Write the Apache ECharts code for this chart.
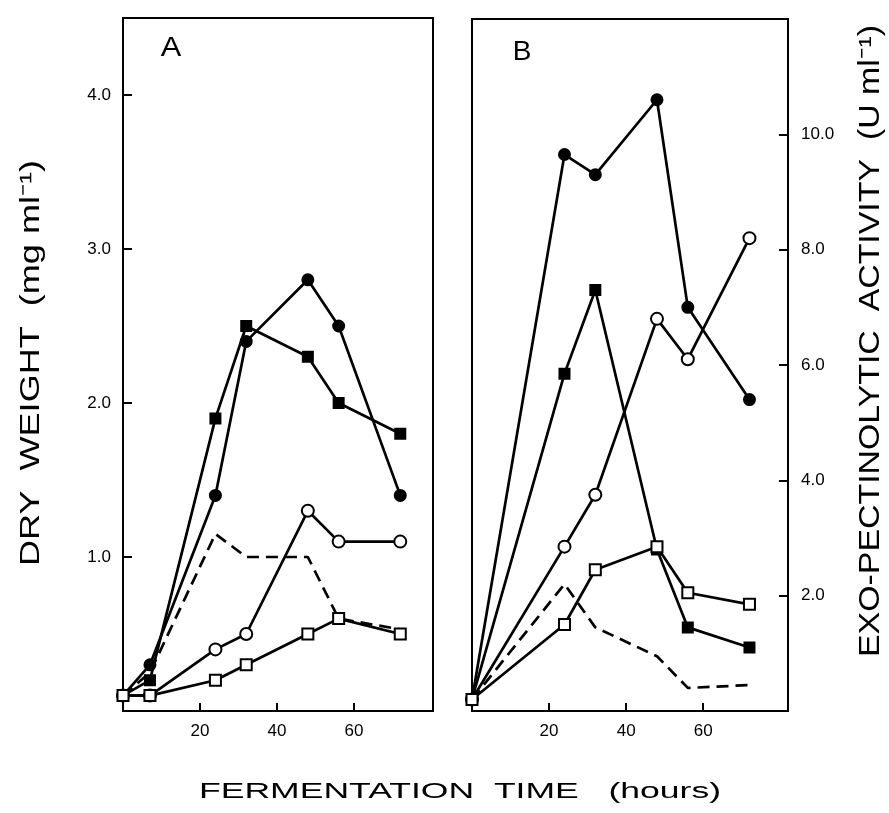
<!DOCTYPE html>
<html>
<head>
<meta charset="utf-8">
<script src="https://cdn.jsdelivr.net/npm/echarts@6/dist/echarts.min.js"></script>
<style>
html,body{margin:0;padding:0;background:#fff;}
#chart{width:889px;height:813px;}
</style>
</head>
<body>
<div id="chart"></div>
<script>
// ---- data ----
const hoursA = [0, 7, 24, 32, 48, 56, 72];
const hoursB = [0, 24, 32, 48, 56, 72];

// Panel A (dry weight, mg/ml)
const filledCircleA = [0.1, 0.3, 1.4, 2.4, 2.8, 2.5, 1.4];
const filledSquareA = [0.1, 0.2, 1.9, 2.5, 2.3, 2.0, 1.8];
const openCircleA   = [0.1, 0.1, 0.4, 0.5, 1.3, 1.1, 1.1];
const openSquareA   = [0.1, 0.1, 0.2, 0.3, 0.5, 0.6, 0.5];
const dashedA       = [0.1, 0.25, 1.15, 1.0, 1.0, 0.6, 0.53];

// Panel B (exo-pectinolytic activity, U/ml)
const filledCircleB = [0.2, 9.65, 9.3, 10.6, 7.0, 5.4];
const filledSquareB = [0.2, 5.85, 7.3, 2.8, 1.45, 1.1];
const openCircleB   = [0.2, 2.85, 3.75, 6.8, 6.1, 8.2];
const openSquareB   = [0.2, 1.5, 2.45, 2.85, 2.05, 1.85];
const dashedB       = [0.2, 2.2, 1.45, 0.95, 0.4, 0.45];

// ticks
const xTickValues = [20, 40, 60];
const xTickLabels = ['20', '40', '60'];
const yTickValuesA = [1, 2, 3, 4];
const yTickLabelsA = ['1.0', '2.0', '3.0', '4.0'];
const yTickValuesB = [2, 4, 6, 8, 10];
const yTickLabelsB = ['2.0', '4.0', '6.0', '8.0', '10.0'];

// texts
const titleX = 'FERMENTATION  TIME   (hours)';
const titleYA = 'DRY  WEIGHT  (mg ml\u207B\u00B9)';
const titleYB = 'EXO-PECTINOLYTIC  ACTIVITY  (U ml\u207B\u00B9)';
const panelLabels = ['A', 'B'];

// ---- helpers ----
const FONT = '"Liberation Sans", Arial, sans-serif';
const ctx = document.createElement('canvas').getContext('2d');
function textWidth(t, size) { ctx.font = size + 'px ' + FONT; return ctx.measureText(t).width; }
function pairs(xs, ys) { return xs.map((x, i) => [x, ys[i]]); }
function fmt(values, labels) { return v => { const i = values.indexOf(v); return i >= 0 ? labels[i] : ''; }; }

const BLACK = '#000';
function lineSeries(xi, yi, xs, ys, kind) {
  const s = {
    type: 'line', xAxisIndex: xi, yAxisIndex: yi,
    data: pairs(xs, ys),
    lineStyle: { color: BLACK, width: 2.7 },
    itemStyle: { color: BLACK, borderColor: BLACK, borderWidth: 2 },
    animation: false, silent: true, z: 3
  };
  if (kind === 'fc') { s.symbol = 'circle'; s.symbolSize = 11; }
  if (kind === 'fs') { s.symbol = 'rect'; s.symbolSize = 10; }
  if (kind === 'oc') { s.symbol = 'circle'; s.symbolSize = 12; s.itemStyle.color = '#fff'; }
  if (kind === 'os') { s.symbol = 'rect'; s.symbolSize = 11; s.itemStyle.color = '#fff'; }
  if (kind === 'dash') { s.symbol = 'none'; s.showSymbol = false; s.lineStyle.type = [12, 7]; }
  return s;
}

const axisCommon = {
  axisLine: { show: true, onZero: false, lineStyle: { color: BLACK, width: 2 } },
  splitLine: { show: false },
};
function xAxis(gi, max) {
  return Object.assign({}, axisCommon, {
    type: 'value', gridIndex: gi, min: 0, max: max,
    axisTick: { show: true, inside: true, length: 8, lineStyle: { color: BLACK, width: 2 }, customValues: xTickValues },
    axisLabel: { show: true, margin: 12, color: BLACK, fontSize: 17, fontFamily: FONT, customValues: xTickValues, formatter: fmt(xTickValues, xTickLabels) }
  });
}

const option = {
  backgroundColor: '#fff',
  animation: false,
  grid: [
    { left: 123, top: 18, width: 310, height: 693, show: true, borderColor: BLACK, borderWidth: 2, containLabel: false, outerBoundsMode: 'none' },
    { left: 472, top: 19, width: 316, height: 692, show: true, borderColor: BLACK, borderWidth: 2, containLabel: false, outerBoundsMode: 'none' }
  ],
  xAxis: [xAxis(0, 80.5), xAxis(1, 82)],
  yAxis: [
    Object.assign({}, axisCommon, {
      type: 'value', gridIndex: 0, min: 0, max: 4.5, position: 'left',
      axisTick: { show: true, inside: true, length: 9, lineStyle: { color: BLACK, width: 2 }, customValues: yTickValuesA },
      axisLabel: { show: true, margin: 12, color: BLACK, fontSize: 17, fontFamily: FONT, customValues: yTickValuesA, formatter: fmt(yTickValuesA, yTickLabelsA) }
    }),
    Object.assign({}, axisCommon, {
      type: 'value', gridIndex: 1, min: 0, max: 12, position: 'right',
      axisTick: { show: true, inside: true, length: 9, lineStyle: { color: BLACK, width: 2 }, customValues: yTickValuesB },
      axisLabel: { show: true, margin: 13, color: BLACK, fontSize: 17, fontFamily: FONT, customValues: yTickValuesB, formatter: fmt(yTickValuesB, yTickLabelsB) }
    })
  ],
  series: [
    lineSeries(0, 0, hoursA, dashedA, 'dash'),
    lineSeries(0, 0, hoursA, filledCircleA, 'fc'),
    lineSeries(0, 0, hoursA, filledSquareA, 'fs'),
    lineSeries(0, 0, hoursA, openCircleA, 'oc'),
    lineSeries(0, 0, hoursA, openSquareA, 'os'),
    lineSeries(1, 1, hoursB, dashedB, 'dash'),
    lineSeries(1, 1, hoursB, filledCircleB, 'fc'),
    lineSeries(1, 1, hoursB, filledSquareB, 'fs'),
    lineSeries(1, 1, hoursB, openCircleB, 'oc'),
    lineSeries(1, 1, hoursB, openSquareB, 'os')
  ],
  graphic: [
    { type: 'text', x: 460, y: 792, scaleX: 522 / textWidth(titleX, 22), style: { text: titleX, font: '22px ' + FONT, fill: BLACK, align: 'center', verticalAlign: 'middle' } },
    { type: 'text', x: 32, y: 363, rotation: Math.PI / 2, scaleX: 406 / textWidth(titleYA, 27), style: { text: titleYA, font: '27px ' + FONT, fill: BLACK, align: 'center', verticalAlign: 'middle' } },
    { type: 'text', x: 871, y: 341, rotation: Math.PI / 2, scaleX: 632 / textWidth(titleYB, 29), style: { text: titleYB, font: '29px ' + FONT, fill: BLACK, align: 'center', verticalAlign: 'middle' } },
    { type: 'text', x: 171, y: 48, scaleX: 1.1, style: { text: panelLabels[0], font: '28px ' + FONT, fill: BLACK, align: 'center', verticalAlign: 'middle' } },
    { type: 'text', x: 522, y: 52, scaleX: 1.0, style: { text: panelLabels[1], font: '28px ' + FONT, fill: BLACK, align: 'center', verticalAlign: 'middle' } }
  ]
};

const chart = echarts.init(document.getElementById('chart'), null, { renderer: 'canvas' });
chart.setOption(option);
</script>
</body>
</html>
